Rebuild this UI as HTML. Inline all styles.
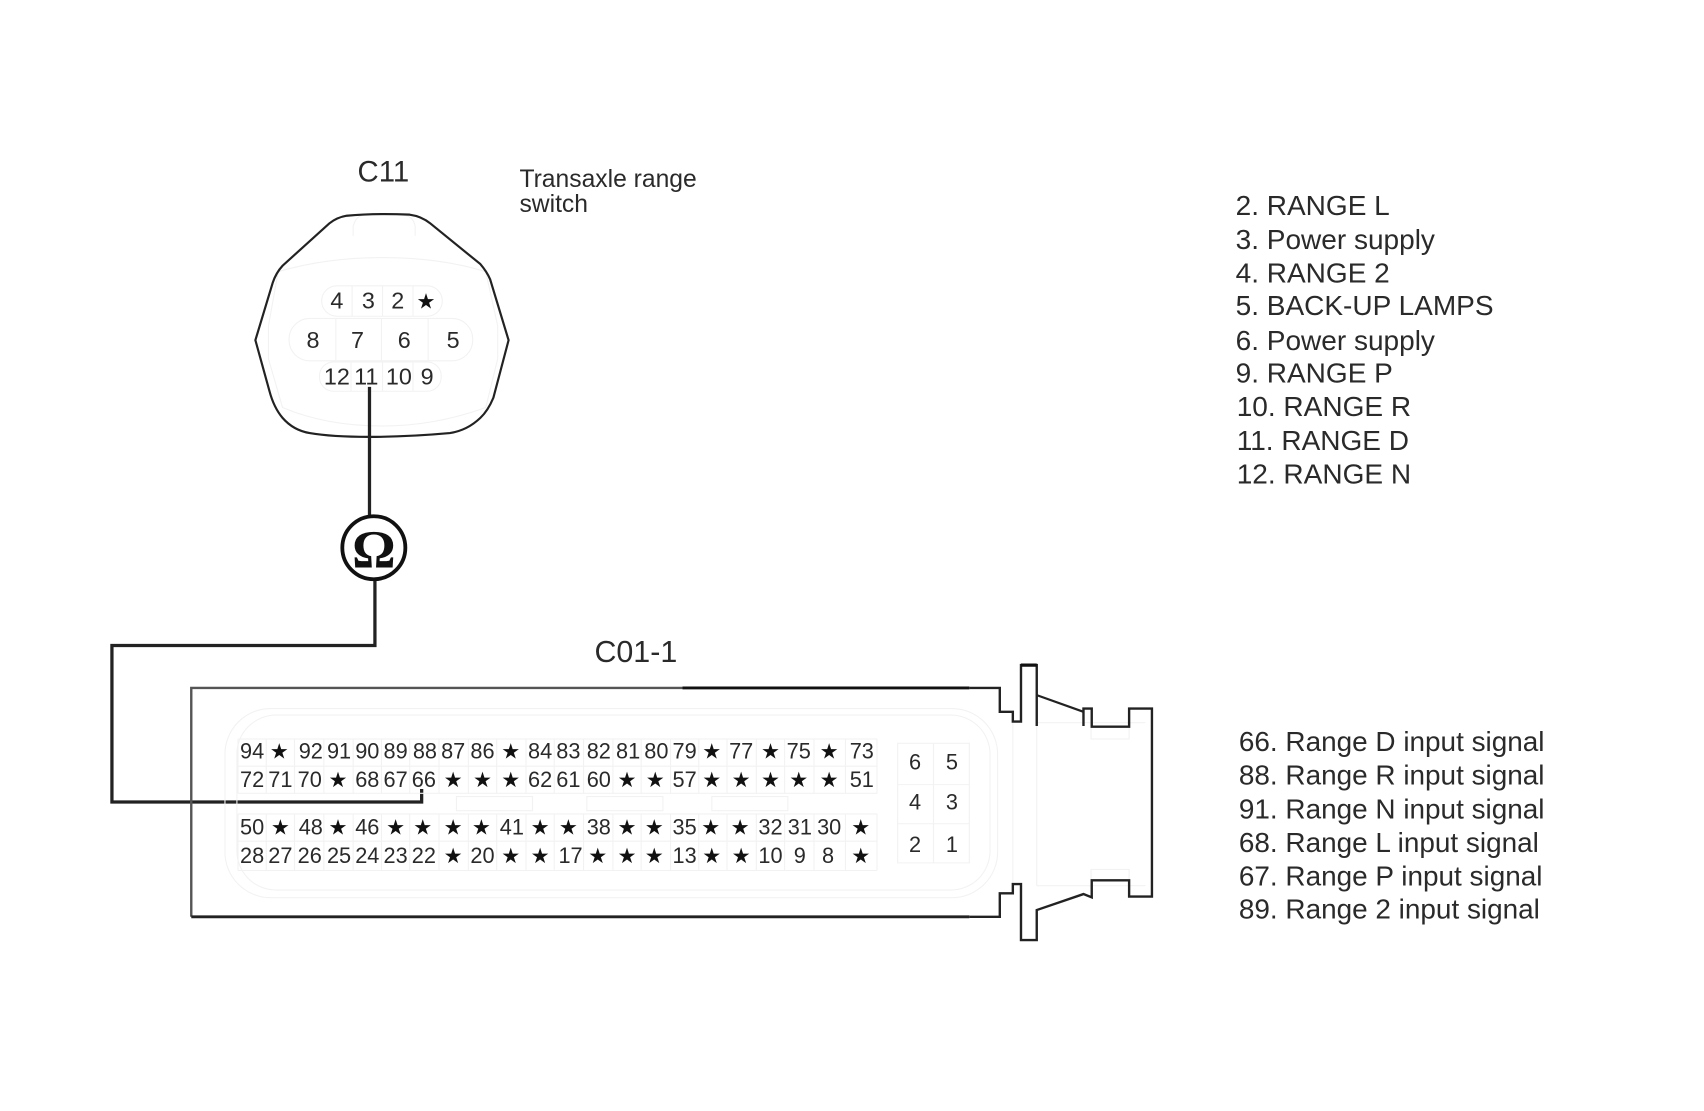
<!DOCTYPE html>
<html><head><meta charset="utf-8"><style>
html,body{margin:0;padding:0;background:#fff;width:1704px;height:1111px;overflow:hidden}
svg{display:block}
text{font-family:"Liberation Sans",sans-serif;fill:#2a2a2a}
.n text{font-size:20px;text-anchor:middle}
.n text.s{font-family:"DejaVu Sans",sans-serif;fill:#111;font-size:19.5px}
.c text{font-size:21.5px;text-anchor:middle}
.c text.s{font-family:"DejaVu Sans",sans-serif;fill:#111;font-size:19.5px}
.l text{font-size:25.8px}
.m text{font-size:25.7px}
.g{fill:none;stroke:#f2f2f2;stroke-width:1}
.k{fill:none;stroke:#222}
</style></head><body>
<svg width="1704" height="1111" viewBox="0 0 1568 1022.3" xmlns="http://www.w3.org/2000/svg">
<rect width="1568" height="1023" fill="#fff"/>
<text x="329" y="167" style="font-size:27px">C11</text>
<text x="478" y="172" style="font-size:22.7px">Transaxle range</text>
<text x="478" y="195" style="font-size:22.7px">switch</text>
<text x="547" y="609" style="font-size:28px">C01-1</text>

<!-- C11 connector -->
<g class="g">
<path d="M325 217V208Q328 198 335 198H370Q380 198 382 208V217"/>
<path d="M256 250Q300 237 352 237Q405 237 447 250L458 300V330L447 375Q400 392 352 392Q300 392 260 375L247 330V300Z"/>
<rect x="296" y="263" width="111" height="28" rx="14"/>
<rect x="266" y="293" width="169" height="39" rx="19"/>
<rect x="294" y="333" width="112" height="27" rx="13"/>
<path d="M324 263V291M352 263V291M380 263V291M309 293V332M351 293V332M394 293V332M323 333V360M352 333V360M380 333V360"/>
</g>
<path class="k" stroke-width="2" d="M319 198.5Q345 196 377 197.5Q388 199 396 205.6L442 243Q448 250 451 257L468 313L454 366Q449 378 442 384.5Q430 396 414 398.5Q375 402 340 402Q305 402 285 398.5Q270 396 260 384.5Q252 375 248 360L235 313L251 260Q254 251 260 244.5L303 205.6Q310 200 319 198.5Z"/>
<g class="c">
<text x="310" y="284">4</text><text x="339" y="284">3</text><text x="366" y="284">2</text><text x="392" y="284" class="s">★</text>
<text x="288" y="320">8</text><text x="329" y="320">7</text><text x="372" y="320">6</text><text x="417" y="320">5</text>
<text x="310" y="354">12</text><text x="337" y="354">11</text><text x="367" y="354">10</text><text x="393" y="354">9</text>
</g>

<!-- wires -->
<path class="k" stroke-width="3" d="M340 356V475"/>
<path class="k" stroke-width="3" d="M345 533V594H103V738H388V726"/>
<circle cx="344" cy="504" r="29" fill="#fff" stroke="#111" stroke-width="3.5"/>
<text x="344" y="522" style="font-family:'Liberation Serif',serif;font-size:50px;font-weight:bold;text-anchor:middle;fill:#111">Ω</text>

<!-- ECM connector -->
<g class="g">
<rect x="207" y="652" width="711" height="174" rx="42"/>
<rect x="218" y="658" width="693" height="161" rx="36"/>
<path d="M219 680H807M219 705H807M219 730H807M219 749H807M219 774H807M219 801H807"/>
<path d="M219 680V730M245 680V730M271 680V730M298 680V730M325 680V730M351 680V730M377 680V730M404 680V730M431 680V730M457 680V730M484 680V730M510 680V730M537 680V730M564 680V730M590 680V730M617 680V730M643 680V730M669 680V730M696 680V730M722 680V730M749 680V730M778 680V730M807 680V730"/>
<path d="M219 749V801M245 749V801M271 749V801M298 749V801M325 749V801M351 749V801M377 749V801M404 749V801M431 749V801M457 749V801M484 749V801M510 749V801M537 749V801M564 749V801M590 749V801M617 749V801M643 749V801M669 749V801M696 749V801M722 749V801M749 749V801M778 749V801M807 749V801"/>
<path d="M826 684H892V794H826ZM859 684V794M826 722H892M826 758H892"/>
<rect x="420" y="733" width="70" height="13"/><rect x="540" y="733" width="70" height="13"/><rect x="655" y="733" width="70" height="13"/>
<path d="M932 665V815M954 665V815M954 665H1054M954 815H1054M1004 668V680H1039V668M1004 812V800H1039V812"/>
</g>
<path d="M176 843.6V633H628" fill="none" stroke="#555" stroke-width="2.2"/>
<path d="M628 633H892" fill="none" stroke="#111" stroke-width="2.6"/>
<path d="M176 843.6H892" fill="none" stroke="#222" stroke-width="2.6"/>
<path class="k" stroke="#333" stroke-width="2.2" d="M892 633H920V655H932V664H939.5V612H954V668"/>
<path class="k" stroke="#333" stroke-width="2" d="M954 639.6L997 655"/>
<path class="k" stroke="#333" stroke-width="2.2" d="M997 668V652H1004.6V668.7H1039V652H1060V825H1039V810H1004.6V825.7L997 822.7L954 837.4V865H939.5V813.5H932V822H920V843.6H892"/>
<path d="M939.5 612H954" stroke="#111" stroke-width="3"/>

<g class="n">
<text x="232" y="698">94</text><text x="257" y="698" class="s">★</text><text x="286" y="698">92</text><text x="312" y="698">91</text><text x="338" y="698">90</text><text x="364" y="698">89</text><text x="391" y="698">88</text><text x="417" y="698">87</text><text x="444" y="698">86</text><text x="470" y="698" class="s">★</text><text x="497" y="698">84</text><text x="523" y="698">83</text><text x="551" y="698">82</text><text x="578" y="698">81</text><text x="604" y="698">80</text><text x="630" y="698">79</text><text x="655" y="698" class="s">★</text><text x="682" y="698">77</text><text x="709" y="698" class="s">★</text><text x="735" y="698">75</text><text x="763" y="698" class="s">★</text><text x="793" y="698">73</text>
<text x="232" y="724">72</text><text x="258" y="724">71</text><text x="285" y="724">70</text><text x="311" y="724" class="s">★</text><text x="338" y="724">68</text><text x="364" y="724">67</text><text x="390" y="724">66</text><text x="417" y="724" class="s">★</text><text x="444" y="724" class="s">★</text><text x="470" y="724" class="s">★</text><text x="497" y="724">62</text><text x="523" y="724">61</text><text x="551" y="724">60</text><text x="577" y="724" class="s">★</text><text x="603" y="724" class="s">★</text><text x="630" y="724">57</text><text x="655" y="724" class="s">★</text><text x="682" y="724" class="s">★</text><text x="709" y="724" class="s">★</text><text x="735" y="724" class="s">★</text><text x="763" y="724" class="s">★</text><text x="793" y="724">51</text>
<text x="232" y="768">50</text><text x="258" y="768" class="s">★</text><text x="286" y="768">48</text><text x="311" y="768" class="s">★</text><text x="338" y="768">46</text><text x="364" y="768" class="s">★</text><text x="389" y="768" class="s">★</text><text x="417" y="768" class="s">★</text><text x="443" y="768" class="s">★</text><text x="471" y="768">41</text><text x="497" y="768" class="s">★</text><text x="523" y="768" class="s">★</text><text x="551" y="768">38</text><text x="577" y="768" class="s">★</text><text x="602" y="768" class="s">★</text><text x="630" y="768">35</text><text x="654" y="768" class="s">★</text><text x="681" y="768" class="s">★</text><text x="709" y="768">32</text><text x="736" y="768">31</text><text x="763" y="768">30</text><text x="792" y="768" class="s">★</text>
<text x="232" y="794">28</text><text x="258" y="794">27</text><text x="285" y="794">26</text><text x="312" y="794">25</text><text x="338" y="794">24</text><text x="364" y="794">23</text><text x="390" y="794">22</text><text x="417" y="794" class="s">★</text><text x="444" y="794">20</text><text x="470" y="794" class="s">★</text><text x="497" y="794" class="s">★</text><text x="525" y="794">17</text><text x="550" y="794" class="s">★</text><text x="577" y="794" class="s">★</text><text x="602" y="794" class="s">★</text><text x="630" y="794">13</text><text x="655" y="794" class="s">★</text><text x="682" y="794" class="s">★</text><text x="709" y="794">10</text><text x="736" y="794">9</text><text x="762" y="794">8</text><text x="792" y="794" class="s">★</text>
<text x="842" y="708">6</text><text x="876" y="708">5</text><text x="842" y="745">4</text><text x="876" y="745">3</text><text x="842" y="784">2</text><text x="876" y="784">1</text>
</g>

<g class="l">
<text x="1137" y="198">2. RANGE L</text>
<text x="1137" y="229">3. Power supply</text>
<text x="1137" y="260">4. RANGE 2</text>
<text x="1137" y="290">5. BACK-UP LAMPS</text>
<text x="1137" y="322">6. Power supply</text>
<text x="1137" y="352">9. RANGE P</text>
<text x="1138" y="383">10. RANGE R</text>
<text x="1138" y="414">11. RANGE D</text>
<text x="1138" y="445">12. RANGE N</text>
</g>
<g class="m">
<text x="1140" y="691">66. Range D input signal</text>
<text x="1140" y="722">88. Range R input signal</text>
<text x="1140" y="753">91. Range N input signal</text>
<text x="1140" y="784">68. Range L input signal</text>
<text x="1140" y="815">67. Range P input signal</text>
<text x="1140" y="845">89. Range 2 input signal</text>
</g>
</svg>
</body></html>
